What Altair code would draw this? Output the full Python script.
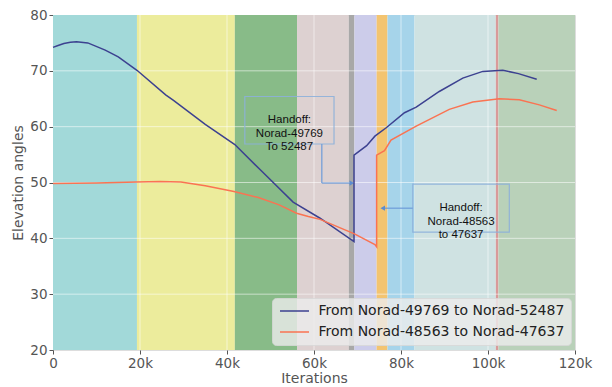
import altair as alt
import pandas as pd

# ---- data ----
blue_x = [0, 1000, 2500, 4000, 5400, 8000, 12000, 15000, 19300, 25900, 27700, 35000, 41800, 48000,
          55200, 61400, 69200,
          69200, 72100, 74000, 76600, 80800, 83500, 88800, 94200, 98800, 103400, 107000, 111200]
blue_y = [74.2, 74.5, 74.9, 75.1, 75.2, 75.0, 73.7, 72.5, 70.1, 65.7, 64.7, 60.4, 56.8, 52.0,
          46.5, 43.6, 39.4,
          54.9, 56.6, 58.3, 59.8, 62.5, 63.5, 66.3, 68.7, 69.9, 70.1, 69.5, 68.5]
orange_x = [0, 10000, 19300, 24600, 29400, 35000, 41600, 47200, 52000, 56000, 58700, 61400, 69300,
            74000, 74400, 74400, 76200, 77700, 83500, 91100, 96500, 102600, 107200, 111800, 115800]
orange_y = [49.8, 49.9, 50.1, 50.2, 50.1, 49.4, 48.4, 47.3, 46.0, 44.5, 43.9, 43.4, 40.8,
            38.9, 38.5, 54.9, 55.7, 57.6, 60.1, 63.1, 64.4, 65.0, 64.8, 63.9, 62.9]
series_names = ["From Norad-49769 to Norad-52487", "From Norad-48563 to Norad-47637"]
series_colors = ["#3c4190", "#fa7352"]

band_start = [0, 19300, 41800, 56100, 68000, 69300, 74400, 76900, 83100, 101800, 102400]
band_end = [19300, 41800, 56100, 68000, 69300, 74400, 76900, 83100, 101800, 102400, 120000]
band_color = ["#a2d9d9", "#ecec9c", "#88bb88", "#ddd1d1", "#a8a8a8", "#ccccea",
              "#f3c470", "#a6d4ea", "#cfe2e2", "#d99a9a", "#b9d1b9"]

x_ticks = [0, 20000, 40000, 60000, 80000, 100000, 120000]
y_ticks = [20, 30, 40, 50, 60, 70, 80]
x_grid = [20000, 40000, 60000, 80000, 100000]
y_grid = [30, 40, 50, 60, 70]

ann_text = [["Handoff:", "Norad-49769", "To 52487"], ["Handoff:", "Norad-48563", "to 47637"]]
ann_box_x = [44100, 82700]
ann_box_x2 = [64600, 104900]
ann_box_y = [65.4, 49.7]
ann_box_y2 = [56.9, 41.1]

# arrow segments (data coords)
arrow_x = [61800, 61800, 82700]
arrow_x2 = [61800, 68700, 75800]
arrow_y = [56.9, 49.9, 45.4]
arrow_y2 = [49.9, 49.9, 45.4]
head_x = [68700, 75800]
head_y = [49.9, 45.4]
head_shape = ["triangle-right", "triangle-left"]

# ---- frames ----
lines = pd.DataFrame(
    {"x": blue_x + orange_x,
     "y": blue_y + orange_y,
     "series": [series_names[0]] * len(blue_x) + [series_names[1]] * len(orange_x),
     "order": list(range(len(blue_x))) + list(range(len(orange_x)))}
)
bands = pd.DataFrame({"x": band_start, "x2": band_end, "c": band_color})
gx = pd.DataFrame({"x": x_grid})
gy = pd.DataFrame({"y": y_grid})
boxes = pd.DataFrame({"x": ann_box_x, "x2": ann_box_x2, "y": ann_box_y, "y2": ann_box_y2,
                      "t": ann_text,
                      "xc": [(a + b) / 2 for a, b in zip(ann_box_x, ann_box_x2)],
                      "yc": [(a + b) / 2 for a, b in zip(ann_box_y, ann_box_y2)]})
arrows = pd.DataFrame({"x": arrow_x, "x2": arrow_x2, "y": arrow_y, "y2": arrow_y2})
heads = pd.DataFrame({"x": head_x, "y": head_y, "s": head_shape})

xs = alt.Scale(domain=[0, 120000], nice=False, zero=False)
ys = alt.Scale(domain=[20, 80], nice=False, zero=False)

axis_common = dict(labelFont="DejaVu Sans", labelFontSize=13.5, labelColor="#555555",
                   titleFont="DejaVu Sans", titleFontSize=14, titleColor="#555555",
                   titleFontWeight="normal", tickColor="#555555", tickSize=4,
                   labelPadding=2, domain=False, grid=False, labelFlush=False)

band_layer = alt.Chart(bands).mark_rect().encode(
    x=alt.X("x:Q", scale=xs, axis=alt.Axis(
        title="Iterations", values=x_ticks,
        labelExpr="datum.value == 0 ? '0' : format(datum.value / 1000, 'd') + 'k'",
        titlePadding=2, **axis_common)),
    x2="x2:Q",
    y=alt.value(0),
    y2=alt.value(335),
    color=alt.Color("c:N", scale=None),
)

grid_x = alt.Chart(gx).mark_rule(color="white", opacity=0.55, strokeWidth=1).encode(
    x=alt.X("x:Q", scale=xs))
grid_y = alt.Chart(gy).mark_rule(color="white", opacity=0.55, strokeWidth=1).encode(
    y=alt.Y("y:Q", scale=ys, axis=alt.Axis(title="Elevation angles", values=y_ticks,
                                           titlePadding=4, **axis_common)))

line_layer = alt.Chart(lines).mark_line(strokeWidth=1.5).encode(
    x=alt.X("x:Q", scale=xs),
    y=alt.Y("y:Q", scale=ys),
    order="order:Q",
    color=alt.Color("series:N",
                    scale=alt.Scale(domain=series_names, range=series_colors),
                    legend=alt.Legend(title=None, orient="none", legendX=219, legendY=283,
                                      labelFont="DejaVu Sans", labelFontSize=14,
                                      labelColor="#222222", labelLimit=1000,
                                      symbolType="M-2.9,0L2.9,0",
                                      symbolSize=100, symbolStrokeWidth=1.5,
                                      symbolOffset=9.5,
                                      labelOffset=17, padding=6, rowPadding=7,
                                      fillColor="rgba(236,236,236,0.8)",
                                      strokeColor="rgba(215,215,215,0.8)",
                                      cornerRadius=4)),
)

box_layer = alt.Chart(boxes).mark_rect(fill=None, stroke="#8db0da", strokeWidth=1.2,
                                       strokeOpacity=0.9).encode(
    x=alt.X("x:Q", scale=xs), x2="x2:Q", y=alt.Y("y:Q", scale=ys), y2="y2:Q")
text_layer = alt.Chart(boxes).mark_text(font="Liberation Sans", fontSize=11.5, color="#111111",
                                        lineHeight=13.5, baseline="middle", align="center").encode(
    x=alt.X("xc:Q", scale=xs), y=alt.Y("yc:Q", scale=ys), text="t")
arrow_layer = alt.Chart(arrows).mark_rule(color="#6d9bd8", strokeWidth=1.2).encode(
    x=alt.X("x:Q", scale=xs), x2="x2:Q", y=alt.Y("y:Q", scale=ys), y2="y2:Q")
head_layer = alt.Chart(heads).mark_point(filled=True, color="#5b8cd0", size=28, opacity=1).encode(
    x=alt.X("x:Q", scale=xs), y=alt.Y("y:Q", scale=ys),
    shape=alt.Shape("s:N", scale=None))

chart = alt.layer(band_layer, grid_x, grid_y, box_layer, arrow_layer, head_layer, text_layer,
                  line_layer).properties(
    width=522, height=335,
    autosize=alt.AutoSizeParams(type="none"),
    padding={"left": 45, "top": 7, "right": 29, "bottom": 40},
).configure_view(stroke=None).configure(background="white")

chart.save("out.html", embed_options={"renderer": "svg", "actions": False})
